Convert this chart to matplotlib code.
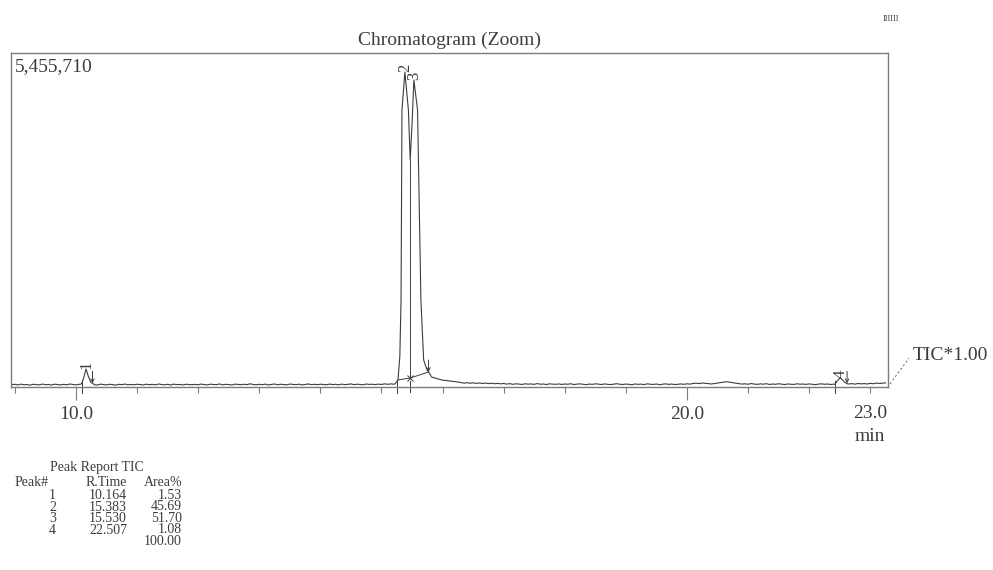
import numpy as np
import matplotlib
matplotlib.use("Agg")
import matplotlib.pyplot as plt
from matplotlib.lines import Line2D

plt.rcParams['font.family'] = ['Liberation Serif', 'DejaVu Serif']

W, H = 993, 570
INK = '#3c3c3c'
FRAME = '#7c7c7c'

# --- TIC trace (kilo counts) ---
# baseline readings every 0.05 min starting at 8.95 min
base_t0 = 8.95
base_step = 0.05
base_k = [
    38, 44, 33, 47, 36, 41, 30, 45, 39, 35, 48, 37, 42, 31, 46, 40, 34, 43, 36, 49,
    41, 35, 44, 39, 46, 37, 42, 36, 33, 47, 40, 34, 45, 38, 31, 44, 39, 48, 35, 42,
    37, 45, 40, 33, 46, 38, 43, 35, 49, 41, 36, 44, 32, 47, 39, 42, 34, 45, 40, 37,
    43, 36, 48, 39, 34, 46, 41, 38, 50, 35, 44, 40, 33, 47, 42, 37, 45, 39, 52, 41,
    36, 44, 38, 47, 33, 42, 49, 37, 45, 40, 35, 48, 43, 38, 46, 34, 41, 50, 39, 44,
    37, 45, 42, 36, 48, 40, 44, 35, 47, 39, 43, 51, 38, 46, 41, 36, 49, 42, 45, 40,
    47, 41, 52, 44, 50, 46, 55, 58, 60, 60, 60, 60, 60, 60, 60, 60, 60, 60, 60, 60,
    80, 78, 76, 74, 72, 70, 66, 72, 63, 70, 61, 68, 59, 66, 57, 64, 55, 62, 53, 60,
    51, 58, 47, 55, 44, 52, 48, 41, 53, 46, 50, 43, 56, 45, 49, 40, 52, 47, 44, 50,
    42, 49, 45, 53, 40, 47, 51, 44, 38, 48, 43, 52, 46, 41, 50, 44, 39, 47, 53, 45,
    41, 48, 44, 36, 50, 43, 47, 39, 52, 45, 42, 49, 37, 46, 51, 43, 48, 40, 45, 50,
    44, 52, 47, 58, 62, 55, 66, 60, 53, 49, 57, 64, 72, 80, 86, 78, 70, 61, 55, 48,
    52, 45, 56, 48, 43, 51, 46, 54, 41, 49, 44, 53, 47, 40, 50, 45, 42, 52, 46, 48,
    43, 50, 45, 38, 47, 52, 44, 49, 41, 46, 50, 50, 50, 50, 50, 55, 47, 58, 51, 56,
    49, 60, 53, 64, 58, 62, 67,
]

# peak segments (min, kilo counts)
p1_t = [10.09, 10.12, 10.164, 10.20, 10.24, 10.28]
p1_k = [50, 130, 294, 180, 80, 55]
p23_t = [15.22, 15.27, 15.30, 15.32, 15.335, 15.383, 15.44, 15.47, 15.50, 15.526,
         15.53, 15.59, 15.645, 15.69, 15.74, 15.77, 15.82, 15.99, 16.25]
p23_k = [50, 114, 500, 1421, 4525, 5146, 4525, 3708, 4300, 4900,
         5015, 4525, 1421, 441, 290, 245, 163, 114, 82]
p4_t = [22.42, 22.46, 22.507, 22.55, 22.59, 22.63]
p4_k = [45, 100, 150, 110, 70, 50]

# peak report
peak_no = [1, 2, 3, 4]
peak_rt = [10.164, 15.383, 15.530, 22.507]
peak_area = [1.53, 45.69, 51.70, 1.08]
peak_top_k = [294, 5146, 5015, 150]
peak_start = [10.09, 15.26, 22.42]
peak_end = [10.27, 15.77, 22.62]
peak_end_k = [60, 245, 60]
drop_t = 15.47
drop_k = [147, 3708]

y_max = 5455710

# --- assemble trace ---
base_t = np.round(base_t0 + base_step * np.arange(len(base_k)), 3)
base_v = np.array(base_k, dtype=float)
segs = [(p1_t, p1_k), (p23_t, p23_k), (p4_t, p4_k)]
keep = np.ones(len(base_t), bool)
for st, sk in segs:
    keep &= ~((base_t >= st[0]) & (base_t <= st[-1]))
t_all = np.concatenate([base_t[keep]] + [np.array(s[0]) for s in segs])
v_all = np.concatenate([base_v[keep]] + [np.array(s[1], float) for s in segs])
order = np.argsort(t_all)
t_all, v_all = t_all[order], v_all[order] * 1000

fig = plt.figure(figsize=(W / 100, H / 100), dpi=100)
ax = fig.add_axes([11 / W, 1 - 387 / H, 877 / W, 334 / H])
ax.set_xlim(8.936, 23.29)
ax.set_ylim(0, y_max)
px = y_max / 334.0  # counts per pixel

ax.plot(t_all, v_all, color=INK, lw=0.8)

for s in ax.spines.values():
    s.set_color(FRAME)
    s.set_linewidth(1.0)
ax.set_yticks([])
ax.set_xticks([10, 20])
ax.set_xticklabels(['10.0', '20.0'])
ax.set_xticks([9, 11, 12, 13, 14, 15, 16, 17, 18, 19, 21, 22, 23], minor=True)
ax.tick_params(axis='x', which='major', direction='out', length=9, width=0.8,
               color=FRAME, labelsize=14, labelcolor=INK, pad=4.5)
ax.tick_params(axis='x', which='minor', direction='out', length=4, width=0.8,
               color=FRAME)
ax.text(23, -18 * px, '23.0', ha='center', va='top', fontsize=14, color=INK)
ax.text(23, -41 * px, 'min', ha='center', va='top', fontsize=14, color=INK)

# peak marks
for t in peak_start:
    ax.plot([t, t], [-6 * px, 6 * px], color=INK, lw=0.7, clip_on=False)
for t, k in zip(peak_end, peak_end_k):
    ax.annotate('', xy=(t, k * 1000), xytext=(t, k * 1000 + 12 * px),
                arrowprops=dict(arrowstyle='->', color=INK, lw=0.7,
                                mutation_scale=6, shrinkA=0, shrinkB=0))
ax.plot([15.26, drop_t, 15.77], [114e3, drop_k[0] * 1000, 245e3], color=INK, lw=0.7)
ax.plot([drop_t, drop_t], [drop_k[0] * 1000, drop_k[1] * 1000], color=INK, lw=0.7)
ax.plot([drop_t], [drop_k[0] * 1000], marker='x', ms=4, mew=0.7, color=INK)
ax.plot([drop_t, drop_t], [-5 * px, 6 * px], color=INK, lw=0.7, clip_on=False)
for n, t, k in zip(peak_no, peak_rt, peak_top_k):
    ax.text(t, k * 1000, str(n), rotation=90, ha='center', va='bottom',
            fontsize=12, color=INK)

ax.text(0.004, 0.985, '5,455,710', transform=ax.transAxes, ha='left', va='top',
        fontsize=14, color=INK)


def ftext(x, y, s, **kw):
    fig.text(x / W, 1 - y / H, s, color=INK, **kw)


ftext(450, 40, 'Chromatogram (Zoom)', ha='center', va='center', fontsize=14)
ftext(913, 355, 'TIC*1.00', ha='left', va='center', fontsize=14)
fig.add_artist(Line2D([890 / W, 909 / W], [1 - 384 / H, 1 - 358 / H],
                      color=FRAME, lw=0.8, ls=(0, (2, 2))))
ftext(891, 19, 'IIIIII', ha='center', va='center', fontsize=6)

# peak report table (multi-line columns; 'baseline' is the last line's)
tab = dict(fontsize=10, va='baseline', linespacing=0.855)
ftext(50, 471, 'Peak Report TIC', ha='left', **tab)
ftext(15, 486, 'Peak#', ha='left', **tab)
ftext(127, 486, 'R.Time', ha='right', **tab)
ftext(182, 486, 'Area%', ha='right', **tab)
ftext(56, 534, '\n'.join(str(n) for n in peak_no), ha='right', multialignment='right', **tab)
ftext(127, 534, '\n'.join(f'{rt:.3f}' for rt in peak_rt), ha='right',
      multialignment='right', **tab)
ftext(182, 545, '\n'.join([f'{a:.2f}' for a in peak_area] + [f'{sum(peak_area):.2f}']),
      ha='right', multialignment='right', **tab)

fig.savefig('out.png', dpi=100)
